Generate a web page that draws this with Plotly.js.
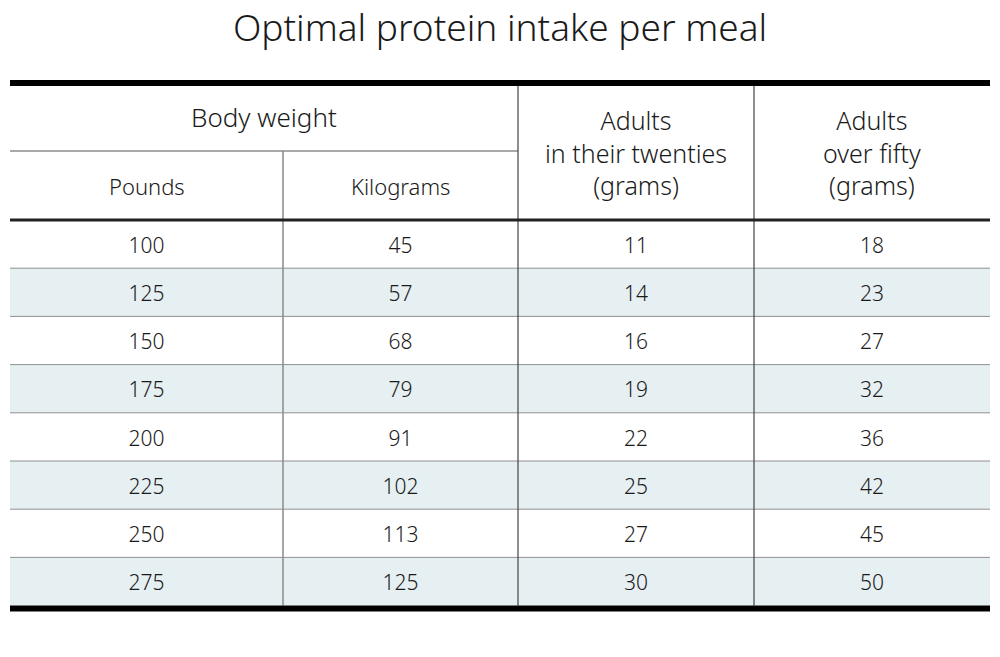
<!DOCTYPE html>
<html>
<head>
<meta charset="utf-8">
<script src="https://cdn.plot.ly/plotly-3.0.1.min.js"></script>
<style>html,body{margin:0;padding:0;background:#fff;}#chart{width:1000px;height:657px;}</style>
</head>
<body>
<div id="chart"></div>
<script>
// ---- Data ----
const titleText = "Optimal protein intake per meal";
const groupHeader = "Body weight";
const columnHeaders = ["Pounds", "Kilograms", "Adults<br>in their twenties<br>(grams)", "Adults<br>over fifty<br>(grams)"];
const pounds = [100, 125, 150, 175, 200, 225, 250, 275];
const kilograms = [45, 57, 68, 79, 91, 102, 113, 125];
const twenties = [11, 14, 16, 19, 22, 25, 27, 30];
const overFifty = [18, 23, 27, 32, 36, 42, 45, 50];

// ---- Layout geometry (pixel space via axes) ----
const colEdges = [10, 283, 518, 754, 990];
const topRuleY = 83, groupRuleY = 151, headRuleY = 220, rowH = 48.2;
const FONT = "'Noto Sans', 'Open Sans', sans-serif";
const TXT = "#1a1a1a";

const columns = [pounds, kilograms, twenties, overFifty];
const nRows = pounds.length;
const bottomY = headRuleY + rowH * nRows;
const colCenter = i => (colEdges[i] + colEdges[i + 1]) / 2;
const rowCenter = r => headRuleY + rowH * (r + 0.5) + 3.5;

const traces = columns.map((col, ci) => ({
  type: "scatter",
  mode: "text",
  x: col.map(() => colCenter(ci)),
  y: col.map((_, r) => rowCenter(r)),
  text: col.map(String),
  textposition: "middle center",
  textfont: {family: FONT, size: 21, color: TXT, weight: 300},
  hoverinfo: "skip",
  showlegend: false
}));

const shapes = [];
// alternating row bands
for (let r = 0; r < nRows; r++) {
  if (r % 2 === 1) {
    shapes.push({type: "rect", layer: "below", xref: "x", yref: "y",
      x0: colEdges[0], x1: colEdges[4], y0: headRuleY + rowH * r, y1: headRuleY + rowH * (r + 1),
      fillcolor: "#e6eff2", line: {width: 0}});
  }
}
// row separators
for (let r = 1; r < nRows; r++) {
  shapes.push({type: "line", xref: "x", yref: "y", x0: colEdges[0], x1: colEdges[4],
    y0: headRuleY + rowH * r, y1: headRuleY + rowH * r, line: {color: "#909090", width: 1}});
}
// group divider under "Body weight"
shapes.push({type: "line", xref: "x", yref: "y", x0: colEdges[0], x1: colEdges[2],
  y0: groupRuleY, y1: groupRuleY, line: {color: "#555", width: 1.2}});
// vertical dividers
shapes.push({type: "line", xref: "x", yref: "y", x0: colEdges[1], x1: colEdges[1],
  y0: groupRuleY, y1: bottomY, line: {color: "#8a8a8a", width: 1.5}});
[2, 3].forEach(i => shapes.push({type: "line", xref: "x", yref: "y", x0: colEdges[i], x1: colEdges[i],
  y0: topRuleY, y1: bottomY, line: {color: "#444", width: 1.2}}));
// heavy rules
shapes.push({type: "rect", xref: "x", yref: "y", x0: colEdges[0], x1: colEdges[4],
  y0: topRuleY - 3, y1: topRuleY + 3, fillcolor: "#000", line: {width: 0}});
shapes.push({type: "rect", xref: "x", yref: "y", x0: colEdges[0], x1: colEdges[4],
  y0: headRuleY - 1.5, y1: headRuleY + 1.5, fillcolor: "#222", line: {width: 0}});
shapes.push({type: "rect", xref: "x", yref: "y", x0: colEdges[0], x1: colEdges[4],
  y0: bottomY, y1: bottomY + 6, fillcolor: "#000", line: {width: 0}});

const headFont = {family: FONT, size: 25, color: TXT, weight: 300};
const subFont = {family: FONT, size: 22, color: TXT, weight: 300};
const annotations = [
  {x: (colEdges[0] + colEdges[2]) / 2, y: (topRuleY + groupRuleY) / 2, text: groupHeader,
   showarrow: false, xref: "x", yref: "y", font: {family: FONT, size: 26, color: TXT, weight: 300}},
  {x: colCenter(0), y: (groupRuleY + headRuleY) / 2, text: columnHeaders[0],
   showarrow: false, xref: "x", yref: "y", font: subFont},
  {x: colCenter(1), y: (groupRuleY + headRuleY) / 2, text: columnHeaders[1],
   showarrow: false, xref: "x", yref: "y", font: subFont},
  {x: colCenter(2), y: (topRuleY + headRuleY) / 2 + 1, text: columnHeaders[2],
   showarrow: false, xref: "x", yref: "y", font: headFont},
  {x: colCenter(3), y: (topRuleY + headRuleY) / 2 + 1, text: columnHeaders[3],
   showarrow: false, xref: "x", yref: "y", font: headFont}
];

const layout = {
  width: 1000, height: 657,
  margin: {l: 0, r: 0, t: 0, b: 0},
  paper_bgcolor: "#fff", plot_bgcolor: "#fff",
  title: {text: titleText, x: 0.5, xanchor: "center", xref: "paper",
          y: 1 - 28 / 657, yanchor: "middle", yref: "container",
          font: {family: FONT, size: 37, color: TXT, weight: 300}},
  xaxis: {range: [0, 1000], visible: false, fixedrange: true},
  yaxis: {range: [657, 0], visible: false, fixedrange: true},
  shapes: shapes,
  annotations: annotations
};

Plotly.newPlot("chart", traces, layout, {displayModeBar: false, staticPlot: true});
</script>
</body>
</html>
